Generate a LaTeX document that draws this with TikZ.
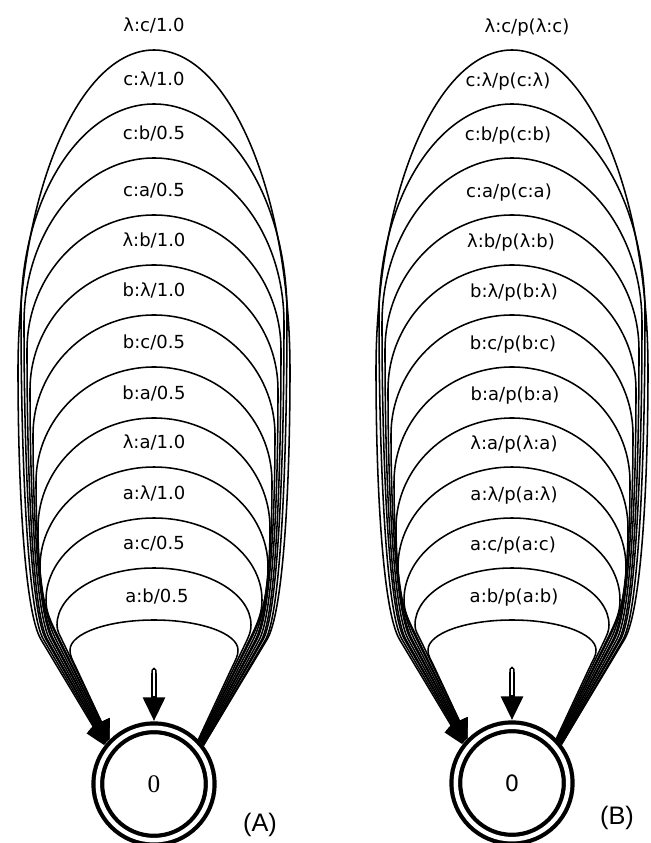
\documentclass[tikz,border=0pt]{standalone}
\usepackage{fontspec}
\setmainfont{DejaVu Sans}
\newfontfamily\tagfont{Liberation Sans}
\newfontfamily\numfont{Liberation Serif}
\usetikzlibrary{arrows.meta, positioning, calc}

\begin{document}
\begin{tikzpicture}[
    x=0.025cm, y=0.025cm,
    state/.style={circle, draw, line width=3pt, double, double distance=3.2pt, minimum size=2.81cm, inner sep=0pt, outer sep=4.6pt},
    lbl/.style={font=\fontsize{12.8}{14}\selectfont, inner sep=1pt},
    tag/.style={font=\tagfont\fontsize{18}{20}\selectfont},
    loopar/.style={line width=1.1pt, -{Triangle[length=14pt, width=13pt]}},
    initar/.style={line width=3.8pt, {Triangle Cap}-{Triangle[length=17pt, width=15pt]}},
    inithole/.style={white, line width=1.7pt, shorten <=2pt, shorten >=18pt}
]
\useasboundingbox (0,0) rectangle (651,843);

% States
\node[state, font=\numfont\fontsize{18}{20}\selectfont] (qa) at (154,59) {0};
\node[state, font=\fontsize{16}{18}\selectfont] (qb) at (512,60) {0};

% Initial arrows
\coordinate[above=1.35cm of qa.north] (ina);
\coordinate[above=1.35cm of qb.north] (inb);
\draw[initar] (ina) -- (qa);
\draw[inithole] (ina) -- (qa);
\draw[initar] (inb) -- (qb);
\draw[inithole] (inb) -- (qb);

% Self loops (A)
\foreach \i/\ay/\wa/\hb/\dx/\txt in {1/50/136/320/0/{λ:c/1.0}, 2/104/133/210/0/{c:λ/1.0},
    3/158/130/165/0/{c:b/0.5}, 4/215/127/135/0/{c:a/0.5}, 5/265/124/125/0/{λ:b/1.0},
    6/315/121/120/0/{b:λ/1.0}, 7/367/118/115/0/{b:c/0.5}, 8/418/116/110/0/{b:a/0.5},
    9/467/114/100/0/{λ:a/1.0}, 10/518/108/82/0/{a:λ/1.0}, 11/568/97/57/0/{a:c/0.5},
    12/620/84/30/3/{a:b/0.5}} {
  \pgfmathsetmacro\yap{843-\ay}
  \pgfmathsetmacro\yl{\yap+24}
  \pgfmathsetmacro\ym{843-\ay-\hb}
  \pgfmathsetmacro\sa{38+7*(\i-1)/11}
  \pgfmathsetmacro\ea{180-\sa}
  \pgfmathsetmacro\dr{59+6*(\i-1)/11}
  \pgfmathsetmacro\dl{180-\dr}
  \pgfmathsetmacro\qy{min(203,\ym-20)}
  \pgfmathsetmacro\lq{(\qy-59-62*sin(\sa))/sin(\dr)}
  \pgfmathsetmacro\dc{max(\wa-62*cos(\sa)-\lq*cos(\dr),1)}
  \pgfmathsetmacro\cu{0.7*\dc/cos(\dr)}
  \pgfmathsetmacro\cv{max(0.5*(\ym-\qy-\dc*tan(\dr)), 0.3*(\ym-\qy))}
  \pgfmathsetmacro\ku{0.552*\wa}
  \pgfmathsetmacro\kv{0.552*\hb}
  \draw[loopar] (qa.\sa) -- ++(\dr:\lq) .. controls +(\dr:\cu) and +(0,-\cv) .. ($(qa |- 0,\ym)+(\wa,0)$)
    .. controls +(0,\kv) and +(\ku,0) .. (qa |- 0,\yap)
    .. controls +(-\ku,0) and +(0,\kv) .. ($(qa |- 0,\ym)+(-\wa,0)$)
    .. controls +(0,-\cv) and +(\dl:\cu) .. ($(qa.\ea)+(\dl:\lq)$) -- (qa.\ea);
  \node[lbl, xshift=\dx*0.025cm] (la\i) at (qa |- 0,\yl) {\txt};
}

% Self loops (B)
\foreach \i/\ay/\wa/\hb/\dx/\txt in {1/50/136/320/15/{λ:c/p(λ:c)}, 2/104/133/210/-4/{c:λ/p(c:λ)},
    3/158/130/165/-4/{c:b/p(c:b)}, 4/215/127/135/-3/{c:a/p(c:a)}, 5/265/124/125/-1/{λ:b/p(λ:b)},
    6/315/121/120/2/{b:λ/p(b:λ)}, 7/367/118/115/1/{b:c/p(b:c)}, 8/418/116/110/3/{b:a/p(b:a)},
    9/467/114/100/2/{λ:a/p(λ:a)}, 10/518/108/82/2/{a:λ/p(a:λ)}, 11/568/97/57/1/{a:c/p(a:c)},
    12/620/84/30/2/{a:b/p(a:b)}} {
  \pgfmathsetmacro\yap{843-\ay}
  \pgfmathsetmacro\yl{\yap+22}
  \pgfmathsetmacro\ym{843-\ay-\hb}
  \pgfmathsetmacro\sa{38+7*(\i-1)/11}
  \pgfmathsetmacro\ea{180-\sa}
  \pgfmathsetmacro\dr{59+6*(\i-1)/11}
  \pgfmathsetmacro\dl{180-\dr}
  \pgfmathsetmacro\qy{min(203,\ym-20)}
  \pgfmathsetmacro\lq{(\qy-60-62*sin(\sa))/sin(\dr)}
  \pgfmathsetmacro\dc{max(\wa-62*cos(\sa)-\lq*cos(\dr),1)}
  \pgfmathsetmacro\cu{0.7*\dc/cos(\dr)}
  \pgfmathsetmacro\cv{max(0.5*(\ym-\qy-\dc*tan(\dr)), 0.3*(\ym-\qy))}
  \pgfmathsetmacro\ku{0.552*\wa}
  \pgfmathsetmacro\kv{0.552*\hb}
  \draw[loopar] (qb.\sa) -- ++(\dr:\lq) .. controls +(\dr:\cu) and +(0,-\cv) .. ($(qb |- 0,\ym)+(\wa,0)$)
    .. controls +(0,\kv) and +(\ku,0) .. (qb |- 0,\yap)
    .. controls +(-\ku,0) and +(0,\kv) .. ($(qb |- 0,\ym)+(-\wa,0)$)
    .. controls +(0,-\cv) and +(\dl:\cu) .. ($(qb.\ea)+(\dl:\lq)$) -- (qb.\ea);
  \node[lbl, xshift=\dx*0.025cm] (lb\i) at (qb |- 0,\yl) {\txt};
}

% Panel tags
\node[tag] (ta) at (260,18) {(A)};
\node[tag] (tb) at (617,25) {(B)};

\end{tikzpicture}
\end{document}
